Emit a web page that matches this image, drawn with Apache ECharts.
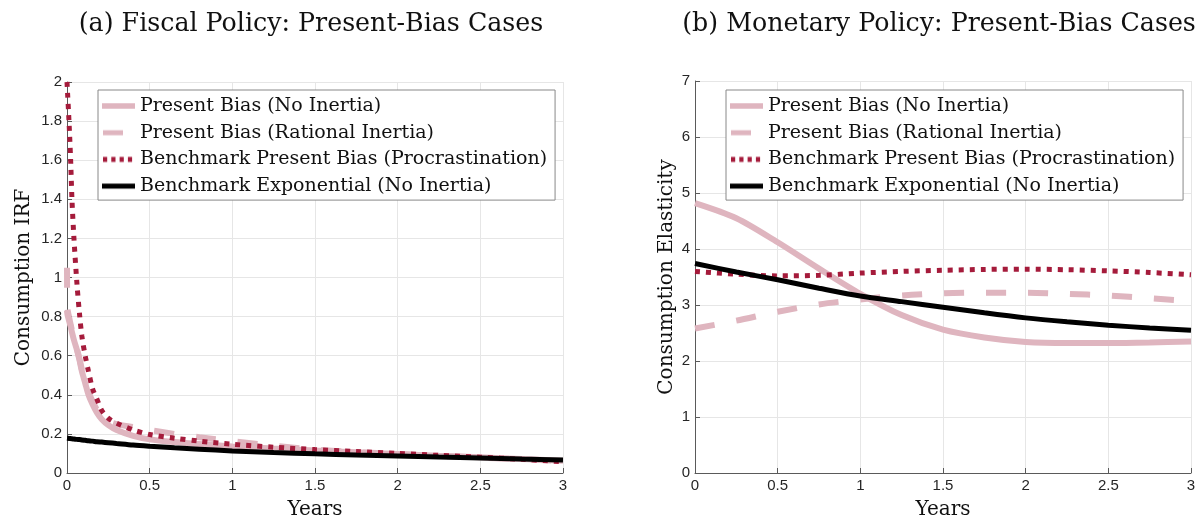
<!DOCTYPE html>
<html>
<head>
<meta charset="utf-8">
<script src="https://cdn.jsdelivr.net/npm/echarts@6/dist/echarts.min.js"></script>
<style>
  html, body { margin: 0; padding: 0; background: #fff; }
  #chart { width: 1199px; height: 518px; }
</style>
</head>
<body>
<div id="chart"></div>
<script>
// Series names (shared by both panels)
const seriesNames = [
  'Present Bias (No Inertia)',
  'Present Bias (Rational Inertia)',
  'Benchmark Present Bias (Procrastination)',
  'Benchmark Exponential (No Inertia)'
];

// Panel (a): fiscal policy, consumption IRF by years
const fiscalYears = [0, 0.003, 0.012, 0.022, 0.03, 0.042, 0.06, 0.075, 0.09, 0.11, 0.13, 0.155, 0.18, 0.21, 0.25, 0.3, 0.4, 0.5, 0.65, 0.8, 1, 1.25, 1.5, 1.75, 2, 2.25, 2.5, 2.75, 3];
const fiscalNoInertia = [0.83, 0.81, 0.78, 0.75, 0.72, 0.68, 0.63, 0.58, 0.52, 0.46, 0.40, 0.35, 0.31, 0.275, 0.245, 0.22, 0.19, 0.172, 0.158, 0.148, 0.136, 0.125, 0.115, 0.106, 0.097, 0.088, 0.08, 0.071, 0.063];
const fiscalRational = [1.05, 0.84, 0.80, 0.76, 0.73, 0.69, 0.635, 0.585, 0.53, 0.47, 0.415, 0.365, 0.325, 0.29, 0.265, 0.25, 0.235, 0.22, 0.2, 0.183, 0.163, 0.14, 0.12, 0.107, 0.097, 0.088, 0.079, 0.07, 0.062];
const fiscalProcrast = [2.0, 1.95, 1.8, 1.6, 1.4, 1.2, 0.97, 0.82, 0.70, 0.60, 0.52, 0.43, 0.38, 0.32, 0.28, 0.255, 0.22, 0.197, 0.178, 0.163, 0.147, 0.132, 0.12, 0.11, 0.1, 0.09, 0.081, 0.07, 0.058];
const fiscalExponential = [0.178, 0.178, 0.177, 0.176, 0.175, 0.174, 0.172, 0.171, 0.169, 0.167, 0.165, 0.163, 0.16, 0.158, 0.155, 0.151, 0.143, 0.137, 0.129, 0.122, 0.113, 0.105, 0.098, 0.092, 0.087, 0.082, 0.077, 0.071, 0.066];

// Panel (b): monetary policy, consumption elasticity by years
const monetaryYears = [0, 0.25, 0.5, 0.75, 1, 1.25, 1.5, 1.75, 2, 2.25, 2.5, 2.75, 3];
const monetaryNoInertia = [4.82, 4.55, 4.12, 3.65, 3.2, 2.82, 2.56, 2.42, 2.34, 2.32, 2.32, 2.33, 2.35];
const monetaryRational = [2.58, 2.72, 2.88, 3.01, 3.1, 3.17, 3.21, 3.22, 3.22, 3.2, 3.17, 3.12, 3.07];
const monetaryProcrast = [3.60, 3.55, 3.52, 3.53, 3.57, 3.60, 3.62, 3.635, 3.64, 3.63, 3.61, 3.58, 3.54];
const monetaryExponential = [3.74, 3.59, 3.45, 3.30, 3.16, 3.06, 2.96, 2.86, 2.77, 2.70, 2.64, 2.59, 2.55];

const pink = '#dfb5bf';
const darkRed = '#a51b3b';
const serif = '"DejaVu Serif", "Liberation Serif", serif';
const sans = '"Liberation Sans", Arial, sans-serif';
const axisGray = '#5a5a5a';
const tickText = '#262626';

const lineStyles = [
  { color: pink, width: 6, type: 'solid' },
  { color: pink, width: 6, type: [20, 22] },
  { color: darkRed, width: 5, type: [5, 6] },
  { color: '#000000', width: 5, type: 'solid' }
];

// Legend swatches: short strokes painted on a small canvas
const iconDash = [[], [20, 40], [4.2, 4.1], []];
function legendIcon(k) {
  const c = document.createElement('canvas');
  c.width = 34; c.height = 14;
  const ctx = c.getContext('2d');
  ctx.strokeStyle = lineStyles[k].color;
  ctx.lineWidth = k === 0 ? 5.5 : 5;
  ctx.setLineDash(iconDash[k]);
  ctx.beginPath();
  const x0 = iconDash[k].length ? 2 : 1;
  ctx.moveTo(x0, 7);
  ctx.lineTo(34, 7);
  ctx.stroke();
  return 'image://' + c.toDataURL('image/png');
}

function pairs(xs, ys) { return xs.map((x, i) => [x, ys[i]]); }

function makeSeries(idx, xs, ysList) {
  return ysList.map((ys, k) => ({
    name: seriesNames[k],
    type: 'line',
    xAxisIndex: idx,
    yAxisIndex: idx,
    data: pairs(xs, ys),
    symbol: 'none',
    smooth: 0.3,
    silent: true,
    color: lineStyles[k].color,
    lineStyle: { color: lineStyles[k].color, width: lineStyles[k].width, type: lineStyles[k].type, cap: 'butt' }
  }));
}

function xAxis(idx) {
  return {
    type: 'value', gridIndex: idx, min: 0, max: 3, interval: 0.5,
    name: 'Years', nameLocation: 'middle', nameGap: 27,
    nameTextStyle: { fontFamily: serif, fontSize: 20, color: '#111' },
    axisLine: { show: true, lineStyle: { color: axisGray, width: 1 } },
    axisTick: { show: true, inside: true, length: 5, lineStyle: { color: axisGray } },
    axisLabel: { fontFamily: sans, fontSize: 15, color: tickText, margin: 5,
      formatter: v => String(parseFloat(v.toFixed(1))) },
    splitLine: { show: true, lineStyle: { color: '#e6e6e6', width: 1 } }
  };
}

function yAxis(idx, max, step, name, gap) {
  return {
    type: 'value', gridIndex: idx, min: 0, max: max, interval: step,
    name: name, nameLocation: 'middle', nameGap: gap, nameRotate: 90,
    nameTextStyle: { fontFamily: serif, fontSize: 20, color: '#111' },
    axisLine: { show: true, lineStyle: { color: axisGray, width: 1 } },
    axisTick: { show: true, inside: true, length: 5, lineStyle: { color: axisGray } },
    axisLabel: { fontFamily: sans, fontSize: 15, color: tickText, margin: 5,
      formatter: v => String(parseFloat(v.toFixed(1))) },
    splitLine: { show: true, lineStyle: { color: '#e6e6e6', width: 1 } }
  };
}

function legend(left) {
  return {
    orient: 'vertical', left: left, top: 90,
    data: seriesNames.map((n, k) => ({ name: n, icon: legendIcon(k) })),
    backgroundColor: '#fff', borderColor: '#888', borderWidth: 1,
    padding: [6, 8, 4, 3],
    itemWidth: 34, itemHeight: 14, itemGap: 6.7,
    selectedMode: false,
    textStyle: { fontFamily: serif, fontSize: 19, color: '#111', lineHeight: 20 }
  };
}

const chart = echarts.init(document.getElementById('chart'), null, { renderer: 'canvas' });
chart.setOption({
  backgroundColor: '#fff',
  animation: false,
  title: [
    { text: '(a) Fiscal Policy: Present-Bias Cases', left: 306, top: 7, textAlign: 'center',
      textStyle: { fontFamily: serif, fontSize: 25.3, fontWeight: 'normal', color: '#111' } },
    { text: '(b) Monetary Policy: Present-Bias Cases', left: 934, top: 7, textAlign: 'center',
      textStyle: { fontFamily: serif, fontSize: 25.3, fontWeight: 'normal', color: '#111' } }
  ],
  legend: [legend(98), legend(726)],
  grid: [
    { left: 67, right: 636, top: 82, bottom: 45, outerBoundsMode: 'none' },
    { left: 695, right: 8, top: 81, bottom: 45, outerBoundsMode: 'none' }
  ],
  xAxis: [xAxis(0), xAxis(1)],
  yAxis: [
    yAxis(0, 2, 0.2, 'Consumption IRF', 33),
    yAxis(1, 7, 1, 'Consumption Elasticity', 18)
  ],
  series: [
    ...makeSeries(0, fiscalYears, [fiscalNoInertia, fiscalRational, fiscalProcrast, fiscalExponential]),
    ...makeSeries(1, monetaryYears, [monetaryNoInertia, monetaryRational, monetaryProcrast, monetaryExponential])
  ]
});
</script>
</body>
</html>
